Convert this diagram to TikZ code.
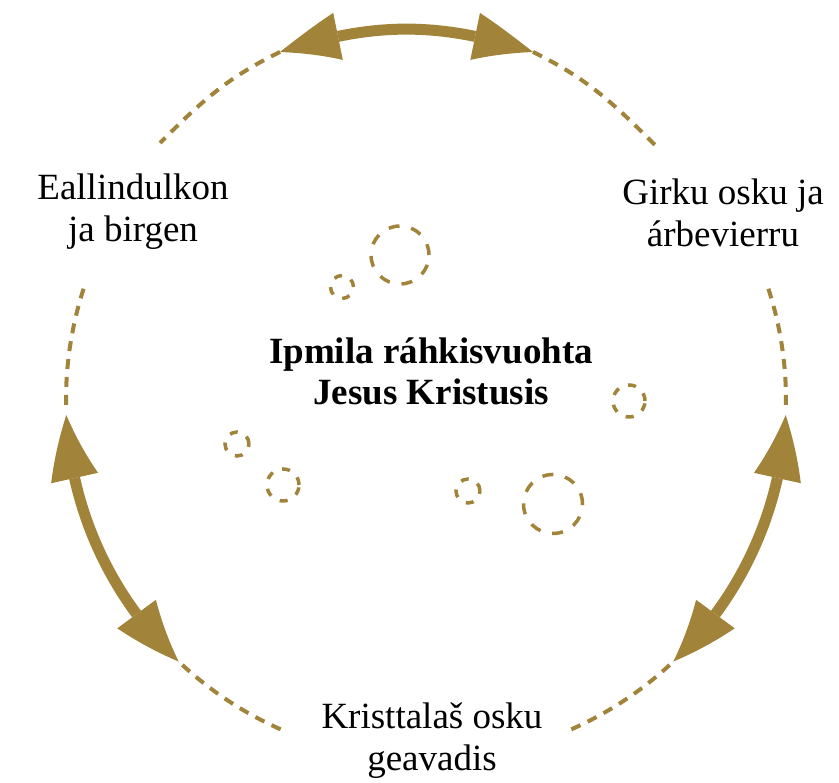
\documentclass[tikz,border=0pt]{standalone}
\usepackage{fontspec}
\setmainfont{Liberation Serif}
\usetikzlibrary{arrows.meta,bending}
\definecolor{gold}{RGB}{161,131,57}
\tikzset{
ring/.style={gold, line width=4pt, dash pattern=on 10pt off 8pt},
bubble/.style={gold, line width=3.5pt, dash pattern=on 8pt off 10pt},
bigbubble/.style={gold, line width=3.5pt, dash pattern=on 11pt off 12pt},
swing/.style={gold, line width=11pt, {Triangle[length=64pt 0,width=48pt 0,line width=0pt,bend]}-{Triangle[length=64pt 0,width=48pt 0,line width=0pt,bend]}},
stage/.style={align=center, font=\fontsize{37}{42}\selectfont}
}
\begin{document}
\begin{tikzpicture}[x=1pt, y=1pt]
\useasboundingbox (0,0) rectangle (839,783);
\coordinate (C) at (426,383);
\coordinate (topL) at (280,731);
\coordinate (topR) at (533,731);
\coordinate (endL) at (160,640);
\coordinate (endR) at (655,638);
\draw [swing] (topL) to [bend left=18] (topR);
\draw [ring] (topL) to [out=206, in=45] (endL);
\draw [ring] (topR) to [out=-26, in=135] (endR);
\draw [swing] (C) ++(182.4:360) arc [start angle=182.4, end angle=226.6, radius=360];
\draw [swing] (C) ++(-2.4:360) arc [start angle=-2.4, end angle=-46.6, radius=360];
\draw [ring] (C) ++(162:360) arc [start angle=162, end angle=181.6, radius=360];
\draw [ring] (C) ++(18:360) arc [start angle=18, end angle=-1.6, radius=360];
\draw [ring] (C) ++(227.4:360) arc [start angle=227.4, end angle=247.2, radius=360];
\draw [ring] (C) ++(312.6:360) arc [start angle=312.6, end angle=292.8, radius=360];
\draw [bigbubble] (400,528) circle [radius=29];
\draw [bubble] (342,496) circle [radius=11.5];
\draw [bubble] (629,382) circle [radius=16];
\draw [bubble] (237,339) circle [radius=12];
\draw [bubble] (283,298) circle [radius=16];
\draw [bubble] (468,292) circle [radius=12];
\draw [bigbubble] (553,279) circle [radius=29.5];
\node [stage] (family) at (133,571) {Eallindulkon\\ja birgen};
\node [stage] (church) at (723,570) {Girku osku ja\\árbevierru};
\node [stage] (practice) at (432,42) {Kristtalaš osku\\geavadis};
\node [stage, font=\fontsize{37}{41}\selectfont\bfseries] (love) at (431,412) {Ipmila ráhkisvuohta\\Jesus Kristusis};
\end{tikzpicture}
\end{document}
